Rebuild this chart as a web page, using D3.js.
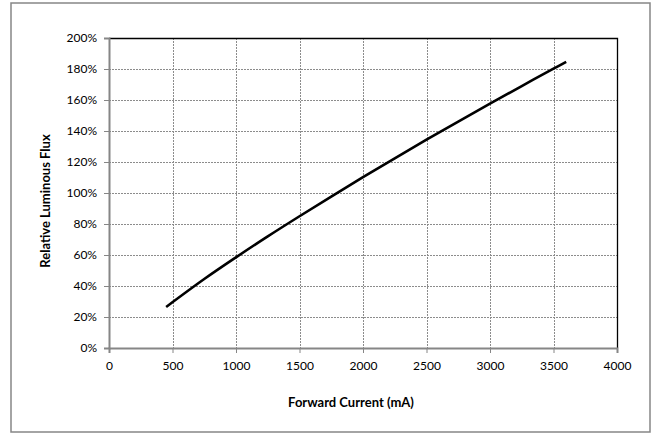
<!DOCTYPE html>
<html>
<head>
<meta charset="utf-8">
<script src="https://cdnjs.cloudflare.com/ajax/libs/d3/7.8.5/d3.min.js"></script>
<style>
  body { margin: 0; background: #fff; }
  svg { display: block; font-family: Lato, "Open Sans", sans-serif; }
</style>
</head>
<body>
<svg width="656" height="434"></svg>
<script>
// forward current (mA) and relative luminous flux (%)
const current = [450, 750, 1000, 1250, 1500, 1750, 2000, 2250, 2500, 2750, 3000, 3250, 3500, 3600];
const flux = [26.5, 44.5, 58.5, 72, 85, 97.7, 110.2, 122.4, 134.4, 146.1, 157.6, 169, 180.2, 184.6];
const xTicks = [0, 500, 1000, 1500, 2000, 2500, 3000, 3500, 4000];
const yTicks = [0, 20, 40, 60, 80, 100, 120, 140, 160, 180, 200];

const svg = d3.select("svg");

// outer frame
svg.append("rect").attr("x", 11).attr("y", 3).attr("width", 639).attr("height", 429)
  .attr("fill", "#fff").attr("stroke", "#868686").attr("stroke-width", 1.5);

const plotL = 109, plotR = 617, plotT = 38, plotB = 348;
const x = d3.scaleLinear().domain([0, 4000]).range([plotL, plotR]);
const y = d3.scaleLinear().domain([0, 200]).range([plotB, plotT]);

// gridlines - dashed grey
svg.append("g").selectAll("line").data(xTicks.slice(1, -1)).join("line")
  .attr("x1", d => Math.round(x(d)) + 0.5).attr("x2", d => Math.round(x(d)) + 0.5)
  .attr("y1", plotT).attr("y2", plotB)
  .attr("stroke", "#8c8c8c").attr("stroke-dasharray", "2,1");
svg.append("g").selectAll("line").data(yTicks.slice(1, -1)).join("line")
  .attr("y1", d => Math.round(y(d)) + 0.5).attr("y2", d => Math.round(y(d)) + 0.5)
  .attr("x1", plotL).attr("x2", plotR)
  .attr("stroke", "#8c8c8c").attr("stroke-dasharray", "2,1");

// top and right border of the plot area
svg.append("path")
  .attr("d", `M${plotL},${plotT + 0.5}H${plotR + 0.5}V${plotB}`)
  .attr("fill", "none").attr("stroke", "#000").attr("stroke-width", 1.3);

// axes
const xAxis = svg.append("g").attr("transform", `translate(0,${plotB})`)
  .call(d3.axisBottom(x).tickValues(xTicks).tickSize(5).tickPadding(8).tickFormat(d3.format("d")));
const yAxis = svg.append("g").attr("transform", `translate(${plotL},0)`)
  .call(d3.axisLeft(y).tickValues(yTicks).tickSize(5).tickPadding(7).tickFormat(d => d + "%"));

[xAxis, yAxis].forEach(g => {
  g.select(".domain").attr("stroke", "#868686").attr("stroke-width", 2);
  g.selectAll(".tick line").attr("stroke", "#868686");
  g.selectAll("text").attr("font-size", 12).attr("fill", "#000").attr("font-family", "Lato, sans-serif");
});

// curve
const line = d3.line().x((d, i) => x(current[i])).y(d => y(d)).curve(d3.curveCatmullRom);
svg.append("path").datum(flux).attr("d", line)
  .attr("fill", "none").attr("stroke", "#000").attr("stroke-width", 2.6);

// axis titles
svg.append("text").attr("x", 351).attr("y", 407).attr("text-anchor", "middle")
  .attr("font-size", 13).attr("font-weight", "bold").text("Forward Current (mA)");
svg.append("text").attr("transform", "translate(50,201) rotate(-90)").attr("text-anchor", "middle")
  .attr("font-size", 13).attr("font-weight", "bold").text("Relative Luminous Flux");
</script>
</body>
</html>
